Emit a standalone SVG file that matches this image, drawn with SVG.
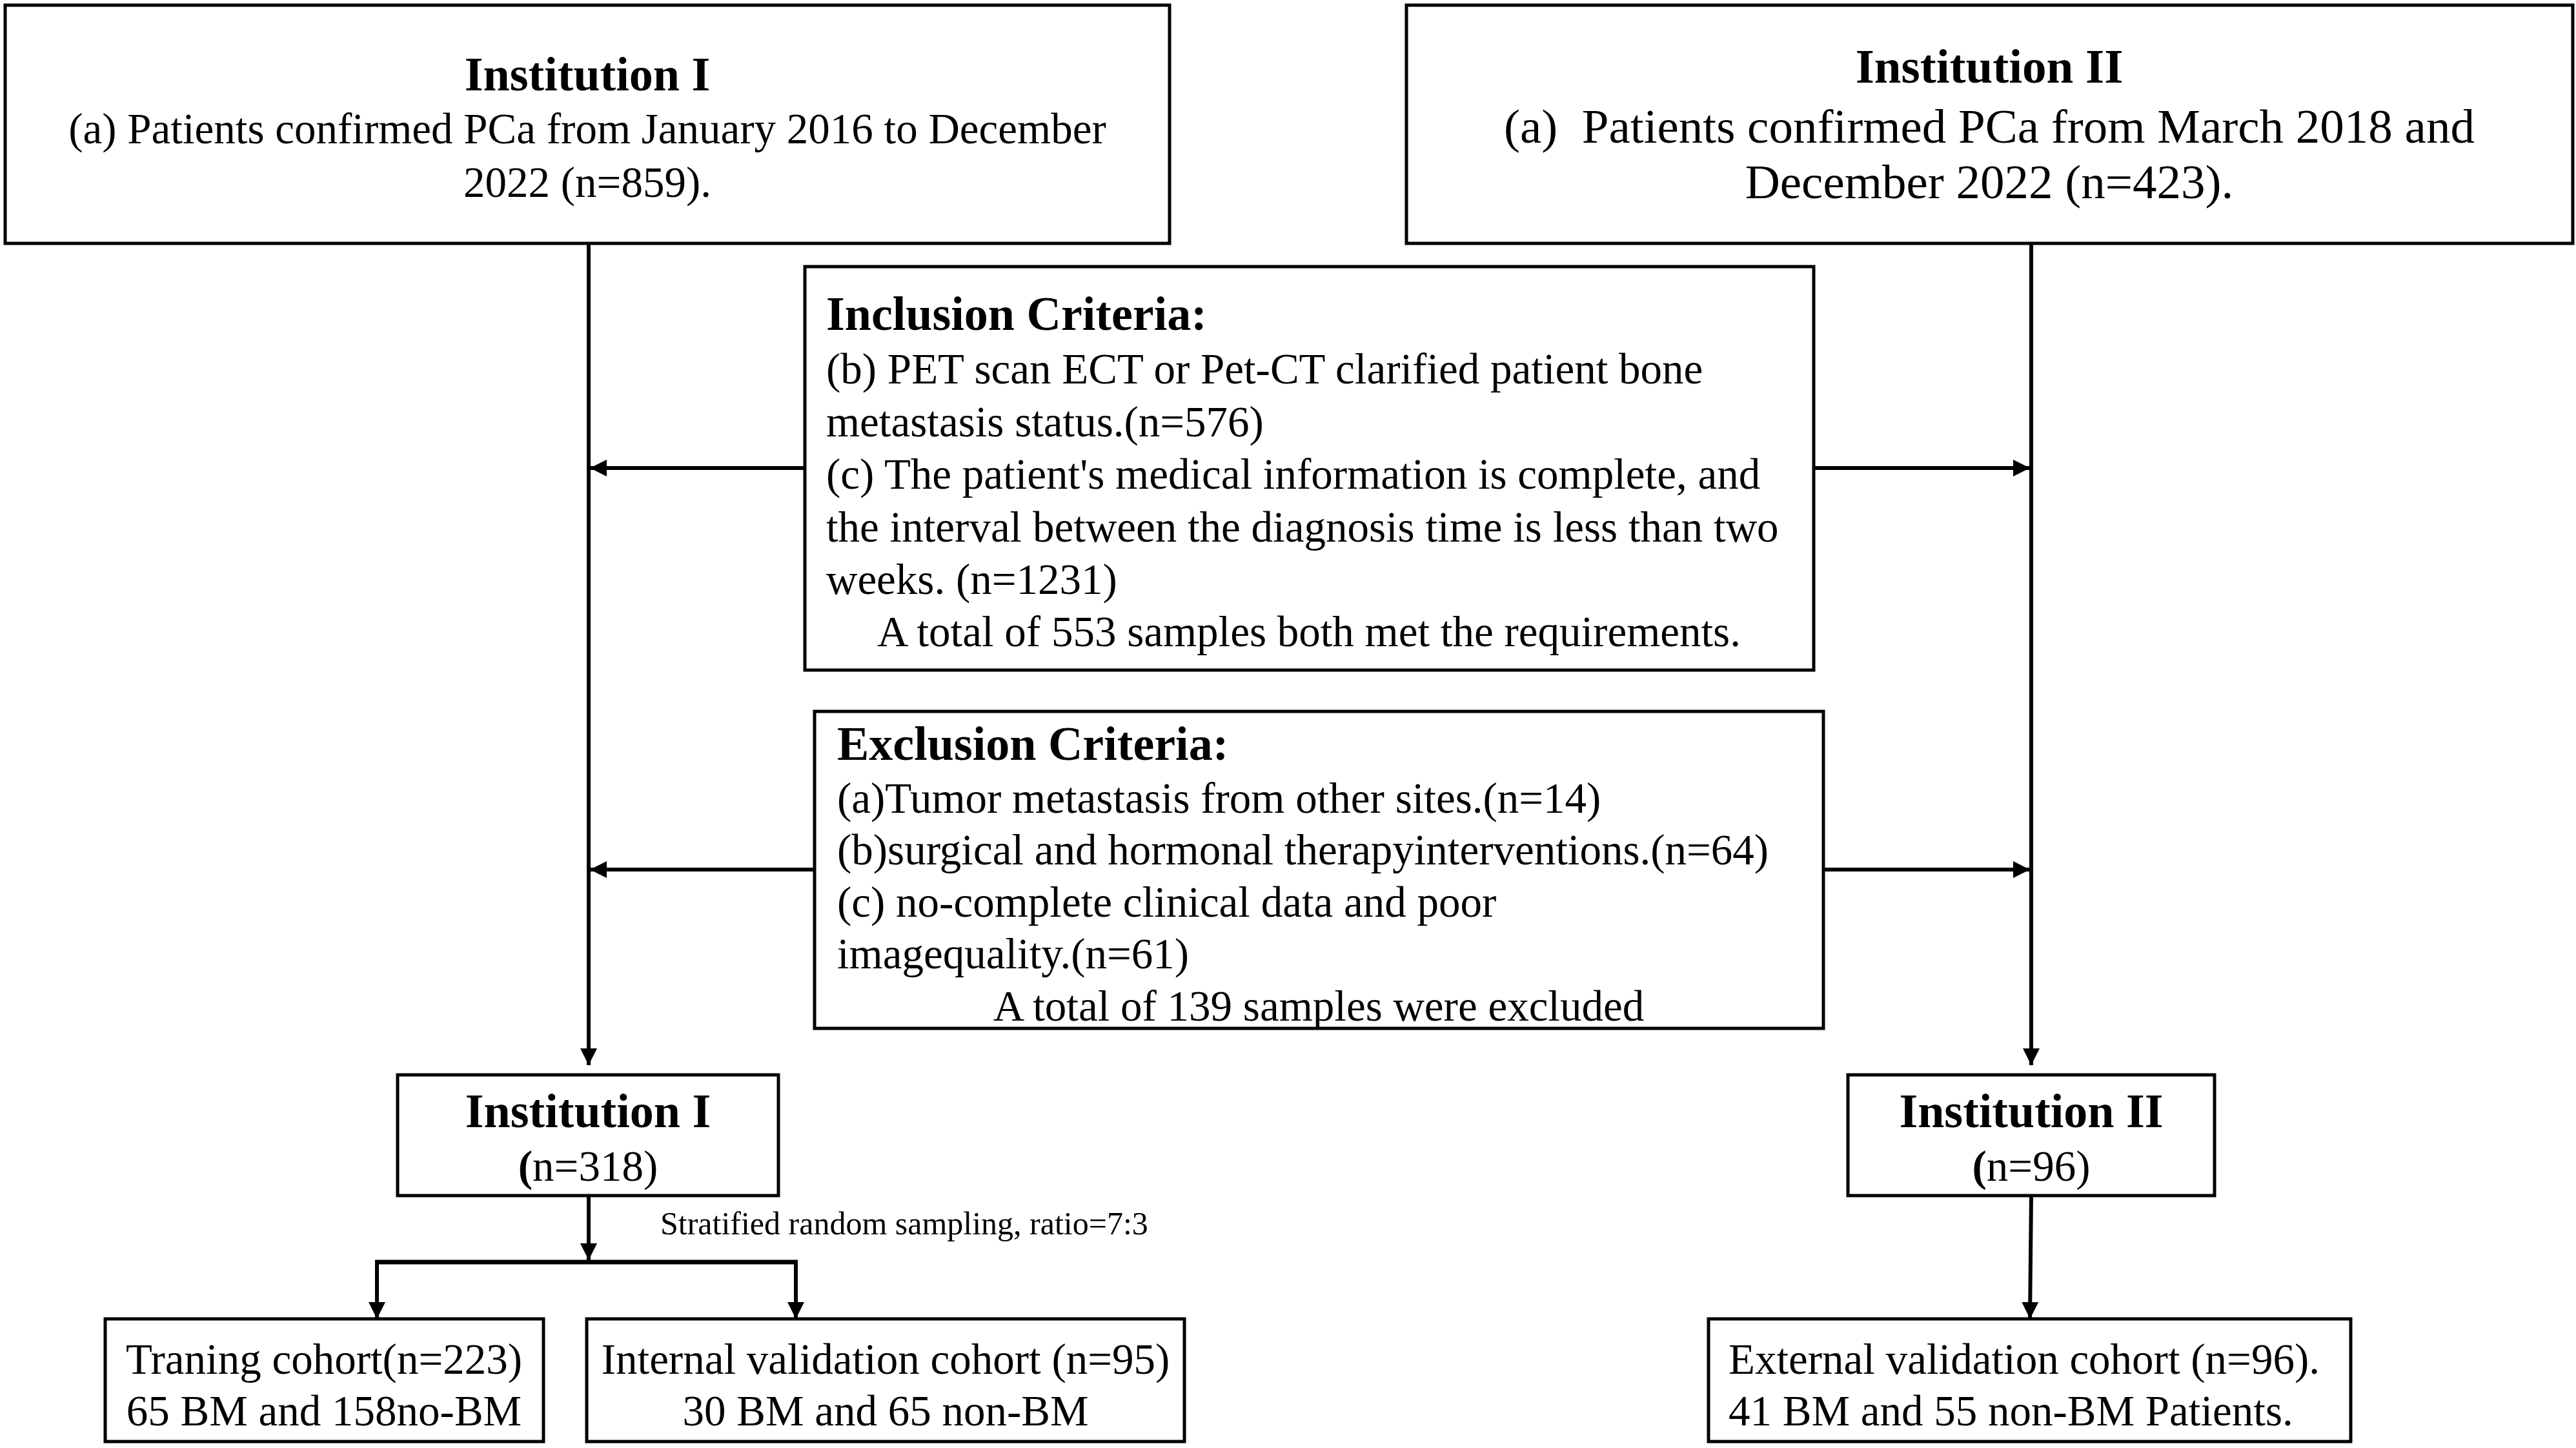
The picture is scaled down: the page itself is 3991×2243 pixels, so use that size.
<svg xmlns="http://www.w3.org/2000/svg" width="3991" height="2243" viewBox="0 0 3991 2243">
<style>
.box{fill:#fff;stroke:#000;stroke-width:5}
.t{font-family:"Liberation Serif","Times New Roman",serif;fill:#000}
.b{font-weight:bold}
.s66{font-size:67px}
.s74{font-size:74px}
.s75{font-size:75px}
.s50{font-size:50px}
.c{text-anchor:middle}
.ln{stroke:#000;stroke-width:6;fill:none}
</style>
<defs>
<marker id="ah" markerUnits="userSpaceOnUse" markerWidth="26" markerHeight="26" viewBox="0 0 26 26" refX="26" refY="13" orient="auto">
<path d="M0,0 L26,13 L0,26 z" fill="#000"/>
</marker>
</defs>
<rect width="3991" height="2243" fill="#fff"/>
<g id="connectors">
<line class="ln" x1="912" y1="379" x2="912" y2="1650" marker-end="url(#ah)"/>
<line class="ln" x1="3147" y1="379" x2="3147" y2="1650" marker-end="url(#ah)"/>
<line class="ln" x1="1247" y1="725" x2="914" y2="725" marker-end="url(#ah)"/>
<line class="ln" x1="2810" y1="725" x2="3145" y2="725" marker-end="url(#ah)"/>
<line class="ln" x1="1262" y1="1347" x2="914" y2="1347" marker-end="url(#ah)"/>
<line class="ln" x1="2825" y1="1347" x2="3145" y2="1347" marker-end="url(#ah)"/>
<line class="ln" x1="912" y1="1852" x2="912" y2="1952" marker-end="url(#ah)"/>
<line class="ln" x1="581" y1="1955" x2="1236" y2="1955" style="stroke-width:7"/>
<line class="ln" x1="584" y1="1955" x2="584" y2="2043" marker-end="url(#ah)"/>
<line class="ln" x1="1233" y1="1955" x2="1233" y2="2043" marker-end="url(#ah)"/>
<line class="ln" x1="3147" y1="1852" x2="3145" y2="2043" marker-end="url(#ah)"/>
</g>
<g id="inst1-top">
<rect class="box" x="8" y="8" width="1804" height="369"/>
<text class="t b s74 c" x="910" y="140">Institution I</text>
<text class="t s66 c" x="910" y="222">(a) Patients confirmed PCa from January 2016 to December</text>
<text class="t s66 c" x="910" y="305">2022 (n=859).</text>
</g>
<g id="inst2-top">
<rect class="box" x="2179" y="8" width="1807" height="369"/>
<text class="t b s75 c" x="3082" y="128">Institution II</text>
<text class="t s75 c" x="3082" y="221" xml:space="preserve">(a)  Patients confirmed PCa from March 2018 and</text>
<text class="t s75 c" x="3082" y="307">December 2022 (n=423).</text>
</g>
<g id="inclusion">
<rect class="box" x="1247" y="413" width="1563" height="625"/>
<text class="t b s74" x="1280" y="511">Inclusion Criteria:</text>
<text class="t s66" x="1280" y="594">(b) PET scan ECT or Pet-CT clarified patient bone</text>
<text class="t s66" x="1280" y="676">metastasis status.(n=576)</text>
<text class="t s66" x="1280" y="757">(c) The patient's medical information is complete, and</text>
<text class="t s66" x="1280" y="839">the interval between the diagnosis time is less than two</text>
<text class="t s66" x="1280" y="920">weeks. (n=1231)</text>
<text class="t s66 c" x="2028" y="1001">A total of 553 samples both met the requirements.</text>
</g>
<g id="exclusion">
<rect class="box" x="1262" y="1102" width="1563" height="491"/>
<text class="t b s74" x="1297" y="1177">Exclusion Criteria:</text>
<text class="t s66" x="1297" y="1259">(a)Tumor metastasis from other sites.(n=14)</text>
<text class="t s66" x="1297" y="1339">(b)surgical and hormonal therapyinterventions.(n=64)</text>
<text class="t s66" x="1297" y="1420">(c) no-complete clinical data and poor</text>
<text class="t s66" x="1297" y="1500">imagequality.(n=61)</text>
<text class="t s66 c" x="2043" y="1581">A total of 139 samples were excluded</text>
</g>
<g id="inst1-mid">
<rect class="box" x="616" y="1665" width="590" height="187"/>
<text class="t b s74 c" x="911" y="1746">Institution I</text>
<text class="t s66 c" x="911" y="1829"><tspan class="b">(</tspan>n=318)</text>
</g>
<g id="inst2-mid">
<rect class="box" x="2863" y="1665" width="568" height="187"/>
<text class="t b s74 c" x="3147" y="1746">Institution II</text>
<text class="t s66 c" x="3147" y="1829"><tspan class="b">(</tspan>n=96)</text>
</g>
<g id="split-label">
<text class="t s50" x="1023" y="1912">Stratified random sampling, ratio=7:3</text>
</g>
<g id="training">
<rect class="box" x="163" y="2043" width="679" height="190"/>
<text class="t s66 c" x="502" y="2128">Traning cohort(n=223)</text>
<text class="t s66 c" x="502" y="2208">65 BM and 158no-BM</text>
</g>
<g id="internal">
<rect class="box" x="909" y="2043" width="926" height="190"/>
<text class="t s66 c" x="1372" y="2128">Internal validation cohort (n=95)</text>
<text class="t s66 c" x="1372" y="2208">30 BM and 65 non-BM</text>
</g>
<g id="external">
<rect class="box" x="2647" y="2043" width="995" height="190"/>
<text class="t s66" x="2678" y="2128">External validation cohort (n=96).</text>
<text class="t s66" x="2678" y="2208">41 BM and 55 non-BM Patients.</text>
</g>
</svg>
